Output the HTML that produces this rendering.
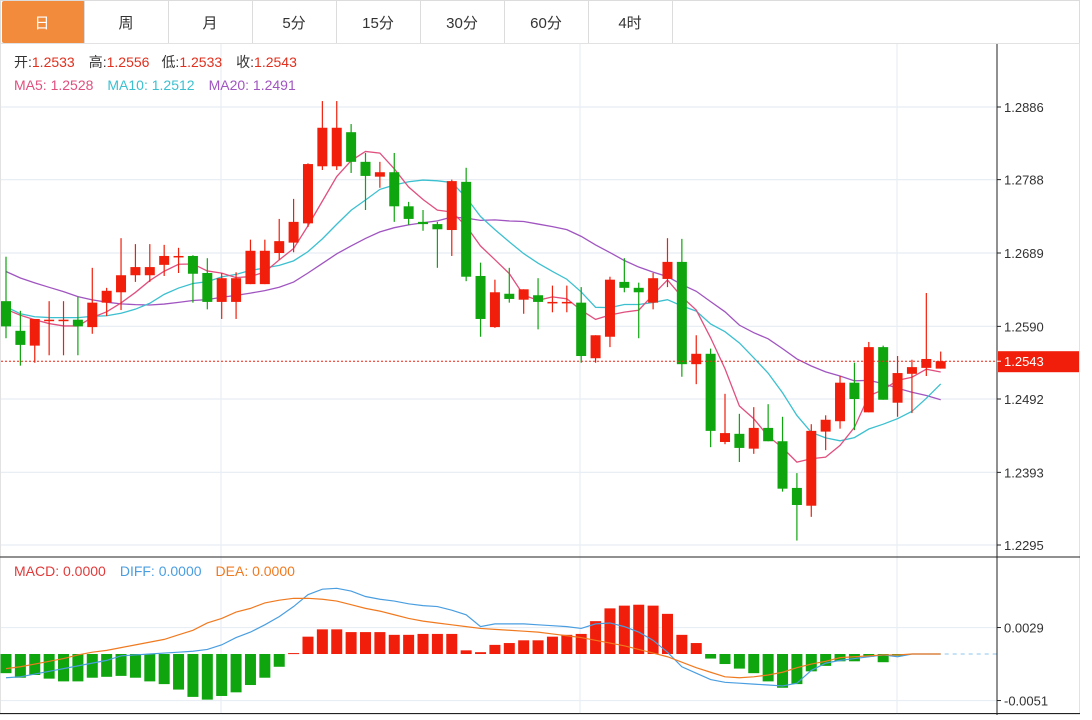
<!DOCTYPE html>
<html><head><meta charset="utf-8"><style>
body{margin:0;width:1092px;height:715px;background:#fff;overflow:hidden;font-family:"Liberation Sans","Noto Sans CJK SC",sans-serif}
svg text{font-family:"Liberation Sans","Noto Sans CJK SC",sans-serif}
</style></head><body>
<svg id="chart" width="1092" height="715" xmlns="http://www.w3.org/2000/svg">
<g id="tabs"></g>
<g id="grid"></g>
<g id="ma"></g>
<g id="candles"></g>
<g id="macd"></g>
<g id="axes"></g>
<g id="legend">
<text x="14" y="67" font-size="14"><tspan fill="#333">开:</tspan><tspan fill="#e0301e">1.2533</tspan><tspan fill="#333" dx="14">高:</tspan><tspan fill="#e0301e">1.2556</tspan><tspan fill="#333" dx="12">低:</tspan><tspan fill="#e0301e">1.2533</tspan><tspan fill="#333" dx="14">收:</tspan><tspan fill="#e0301e">1.2543</tspan></text>
<text x="14" y="90" font-size="14"><tspan fill="#e0507f">MA5: 1.2528</tspan><tspan fill="#3cc0d0" dx="14">MA10: 1.2512</tspan><tspan fill="#a055c0" dx="14">MA20: 1.2491</tspan></text>
<text x="14" y="576" font-size="14"><tspan fill="#e03a3a">MACD: 0.0000</tspan><tspan fill="#4a9ee0" dx="14">DIFF: 0.0000</tspan><tspan fill="#f07a20" dx="14">DEA: 0.0000</tspan></text>
</g>
</svg>
<script>
const tabLabels=["日","周","月","5分","15分","30分","60分","4时"];
const yTicks=[1.2886,1.2788,1.2689,1.2590,1.2492,1.2393,1.2295];
const macdTicks=[0.0029,-0.0051];
const lastPrice=1.2543;
const prevCloses=[1.2740,1.2730,1.2720,1.2715,1.2725,1.2710,1.2700,1.2705,1.2690,1.2680,1.2660,1.2640,1.2610,1.2600,1.2590,1.2605,1.2630,1.2625,1.2615];
const opens=[1.2624,1.2584,1.2564,1.2599,1.2599,1.2599,1.2589,1.2622,1.2636,1.2659,1.2659,1.2673,1.2685,1.2685,1.2662,1.2623,1.2623,1.2647,1.2647,1.2689,1.2703,1.2729,1.2806,1.2806,1.2852,1.2812,1.2792,1.2798,1.2752,1.2731,1.2728,1.2720,1.2785,1.2658,1.2589,1.2634,1.2626,1.2632,1.2623,1.2623,1.2622,1.2547,1.2576,1.2650,1.2642,1.2622,1.2654,1.2677,1.2539,1.2553,1.2434,1.2445,1.2425,1.2453,1.2435,1.2372,1.2348,1.2448,1.2462,1.2514,1.2474,1.2562,1.2487,1.2526,1.2534,1.2533];
const highs=[1.2684,1.2611,1.2600,1.2624,1.2624,1.2630,1.2669,1.2642,1.2709,1.2701,1.2701,1.2700,1.2696,1.2686,1.2682,1.2662,1.2663,1.2707,1.2707,1.2735,1.2762,1.2810,1.2894,1.2894,1.2863,1.2824,1.2812,1.2824,1.2758,1.2747,1.2731,1.2788,1.2804,1.2676,1.2653,1.2669,1.2640,1.2655,1.2645,1.2645,1.2643,1.2578,1.2657,1.2682,1.2649,1.2662,1.2709,1.2708,1.2578,1.2560,1.2499,1.2472,1.2481,1.2485,1.2468,1.2392,1.2458,1.2470,1.2523,1.2541,1.2569,1.2564,1.2550,1.2545,1.2635,1.2556];
const lows=[1.2574,1.2537,1.2541,1.2551,1.2551,1.2551,1.2580,1.2604,1.2612,1.2650,1.2650,1.2658,1.2662,1.2622,1.2613,1.2600,1.2600,1.2647,1.2647,1.2680,1.2690,1.2724,1.2801,1.2801,1.2797,1.2747,1.2777,1.2731,1.2727,1.2719,1.2669,1.2685,1.2651,1.2576,1.2588,1.2622,1.2607,1.2586,1.2609,1.2609,1.2541,1.2541,1.2562,1.2636,1.2574,1.2613,1.2643,1.2522,1.2512,1.2427,1.2431,1.2407,1.2418,1.2435,1.2367,1.2301,1.2333,1.2423,1.2452,1.2450,1.2474,1.2491,1.2468,1.2473,1.2523,1.2533];
const closes=[1.2590,1.2565,1.2600,1.2599,1.2599,1.2590,1.2622,1.2638,1.2659,1.2670,1.2670,1.2685,1.2685,1.2661,1.2623,1.2655,1.2655,1.2692,1.2692,1.2705,1.2731,1.2809,1.2858,1.2858,1.2812,1.2793,1.2798,1.2752,1.2735,1.2728,1.2721,1.2786,1.2657,1.2600,1.2636,1.2627,1.2640,1.2623,1.2623,1.2623,1.2550,1.2578,1.2653,1.2642,1.2636,1.2655,1.2677,1.2539,1.2553,1.2449,1.2446,1.2426,1.2453,1.2435,1.2371,1.2349,1.2449,1.2464,1.2514,1.2492,1.2562,1.2491,1.2527,1.2535,1.2546,1.2543];
const macdHist=[-0.0021,-0.0026,-0.0023,-0.0027,-0.0030,-0.0030,-0.0026,-0.0025,-0.0024,-0.0026,-0.0030,-0.0033,-0.0039,-0.0047,-0.0050,-0.0046,-0.0042,-0.0034,-0.0026,-0.0014,0.0001,0.0019,0.0027,0.0027,0.0024,0.0024,0.0024,0.0021,0.0021,0.0022,0.0022,0.0022,0.0004,0.0002,0.0010,0.0012,0.0015,0.0015,0.0019,0.0021,0.0022,0.0036,0.0050,0.0053,0.0054,0.0053,0.0044,0.0021,0.0012,-0.0005,-0.0011,-0.0016,-0.0021,-0.0030,-0.0037,-0.0033,-0.0019,-0.0013,-0.0008,-0.0008,-0.0003,-0.0009,-0.0002,0,0,0];
const diffVals=[-0.0026,-0.0025,-0.0022,-0.0019,-0.0016,-0.0013,-0.0010,-0.0007,-0.0002,-0.0001,0,0.0001,0.0002,0.0003,0.0005,0.0010,0.0018,0.0024,0.0032,0.0041,0.0052,0.0065,0.0071,0.0072,0.0069,0.0063,0.0060,0.0058,0.0055,0.0053,0.0052,0.0048,0.0043,0.0030,0.0033,0.0033,0.0033,0.0032,0.0031,0.0030,0.0028,0.0033,0.0034,0.0030,0.0024,0.0015,0.0002,-0.0014,-0.0021,-0.0028,-0.0031,-0.0032,-0.0033,-0.0034,-0.0035,-0.0032,-0.0018,-0.0010,-0.0007,-0.0005,-0.0003,-0.0001,-0.0003,0,0,0];
const deaVals=[-0.0016,-0.0014,-0.0011,-0.0008,-0.0005,-0.0001,0.0002,0.0004,0.0007,0.0010,0.0013,0.0016,0.0021,0.0026,0.0034,0.0039,0.0046,0.0050,0.0056,0.0059,0.0061,0.0061,0.0060,0.0058,0.0054,0.0050,0.0047,0.0043,0.0039,0.0036,0.0034,0.0032,0.0030,0.0028,0.0027,0.0026,0.0025,0.0024,0.0022,0.0020,0.0018,0.0015,0.0012,0.0009,0.0005,0.0001,-0.0003,-0.0009,-0.0015,-0.0020,-0.0025,-0.0026,-0.0025,-0.0023,-0.0020,-0.0015,-0.0011,-0.0008,-0.0004,-0.0003,-0.0002,-0.0001,-0.0001,0,0,0];

const NS="http://www.w3.org/2000/svg";
function el(tag,attrs,parent){const e=document.createElementNS(NS,tag);for(const k in attrs)e.setAttribute(k,attrs[k]);parent.appendChild(e);return e;}
const xOf=i=>6+i*14.38;
const yP=p=>107+(1.2886-p)/0.0591*438;
const yM=v=>654-v*9125;
const RED="#f01e0a",GREEN="#0ea50e";

const tabs=document.getElementById('tabs');
let r=el('rect',{x:0.5,y:0.5,width:1079,height:43,fill:'#fff',stroke:'#dcdcdc'},tabs);


tabLabels.forEach((t,i)=>{
  const g=el('g',{},tabs);
  
  
  const x=i*84;
  if(i===0){el('rect',{x:2,y:1,width:83,height:42,rx:2,fill:'#f28b3c'},g);}
  el('line',{x1:x+84.5,y1:0,x2:x+84.5,y2:43,stroke:'#dcdcdc'},g);
  const tx=el('text',{x:x+42,y:28,'font-size':15,'text-anchor':'middle',fill:i===0?'#fff':'#333'},g);
  tx.textContent=t;
});

const grid=document.getElementById('grid');
el('rect',{x:0.5,y:43.5,width:1079,height:671,fill:'none',stroke:'#e2e2e2'},grid);
yTicks.forEach(v=>el('line',{x1:1,x2:997,y1:yP(v),y2:yP(v),stroke:'#e8eef4','stroke-width':1.2},grid));
macdTicks.forEach(v=>el('line',{x1:1,x2:997,y1:yM(v),y2:yM(v),stroke:'#e8eef4','stroke-width':1.2},grid));
[221,580,897].forEach(x=>el('line',{x1:x,x2:x,y1:44,y2:715,stroke:'#e8eef4','stroke-width':1.2},grid));

const all=prevCloses.concat(closes);
function ma(n){return closes.map((c,i)=>{const j=i+prevCloses.length;let s=0;for(let k=j-n+1;k<=j;k++)s+=all[k];return s/n;});}
const maG=document.getElementById('ma');
[[20,'#a055c0','ma20-line'],[10,'#3cc0d0','ma10-line'],[5,'#e0507f','ma5-line']].forEach(([n,c,name])=>{
  const vals=ma(n);
  const p=el('polyline',{points:vals.map((v,i)=>xOf(i)+','+yP(v)).join(' '),fill:'none',stroke:c,'stroke-width':1.3},maG);
  
  
});

const cg=document.getElementById('candles');
closes.forEach((c,i)=>{
  const o=opens[i],up=c>=o,col=up?RED:GREEN,x=xOf(i);
  const g=el('g',{},cg);
  
  
  el('line',{x1:x,x2:x,y1:yP(highs[i]),y2:yP(lows[i]),stroke:col,'stroke-width':1.2},g);
  const top=yP(Math.max(o,c)),h=Math.max(1.5,yP(Math.min(o,c))-top);
  el('rect',{x:x-5,y:top,width:10,height:h,fill:col},g);
});
const lp=el('line',{x1:1,x2:997,y1:yP(lastPrice),y2:yP(lastPrice),stroke:'#f01e0a','stroke-dasharray':'2,2'},cg);



const mg=document.getElementById('macd');
macdHist.forEach((v,i)=>{
  if(v===0)return;
  const y0=yM(0),y1=yM(v);
  const b=el('rect',{x:xOf(i)-5.5,y:Math.min(y0,y1),width:11,height:Math.max(1,Math.abs(y1-y0)),fill:v>0?RED:GREEN},mg);
  
  
});
const dl=el('polyline',{points:diffVals.map((v,i)=>xOf(i)+','+yM(v)).join(' '),fill:'none',stroke:'#4a9ee0','stroke-width':1.2},mg);


const el2=el('polyline',{points:deaVals.map((v,i)=>xOf(i)+','+yM(v)).join(' '),fill:'none',stroke:'#f07a20','stroke-width':1.2},mg);


el('line',{x1:xOf(closes.length-1)+4,x2:997,y1:yM(0),y2:yM(0),stroke:'#8cc4e8','stroke-dasharray':'4,4'},mg);

const ax=document.getElementById('axes');
el('line',{x1:997,x2:997,y1:44,y2:715,stroke:'#222'},ax);
el('line',{x1:0,x2:1080,y1:557,y2:557,stroke:'#222'},ax);
el('line',{x1:0,x2:1080,y1:713.5,y2:713.5,stroke:'#222'},ax);
yTicks.forEach(v=>{
  const y=yP(v);
  el('line',{x1:997,x2:1001,y1:y,y2:y,stroke:'#222'},ax);
  const t=el('text',{x:1004,y:y+5,'font-size':13,fill:'#333'},ax);
  
  
  t.textContent=v.toFixed(4);
});
macdTicks.forEach(v=>{
  const y=yM(v);
  el('line',{x1:997,x2:1001,y1:y,y2:y,stroke:'#222'},ax);
  const t=el('text',{x:1004,y:y+5,'font-size':13,fill:'#333'},ax);
  
  
  t.textContent=v.toFixed(4);
});
const lb=el('rect',{x:998,y:yP(lastPrice)-10,width:81,height:21,fill:'#f01e0a'},ax);


el('line',{x1:997,x2:1001,y1:yP(lastPrice),y2:yP(lastPrice),stroke:'#fff'},ax);
const lt=el('text',{x:1004,y:yP(lastPrice)+5,'font-size':13,fill:'#fff'},ax);
lt.textContent=lastPrice.toFixed(4);
</script>
</body></html>
